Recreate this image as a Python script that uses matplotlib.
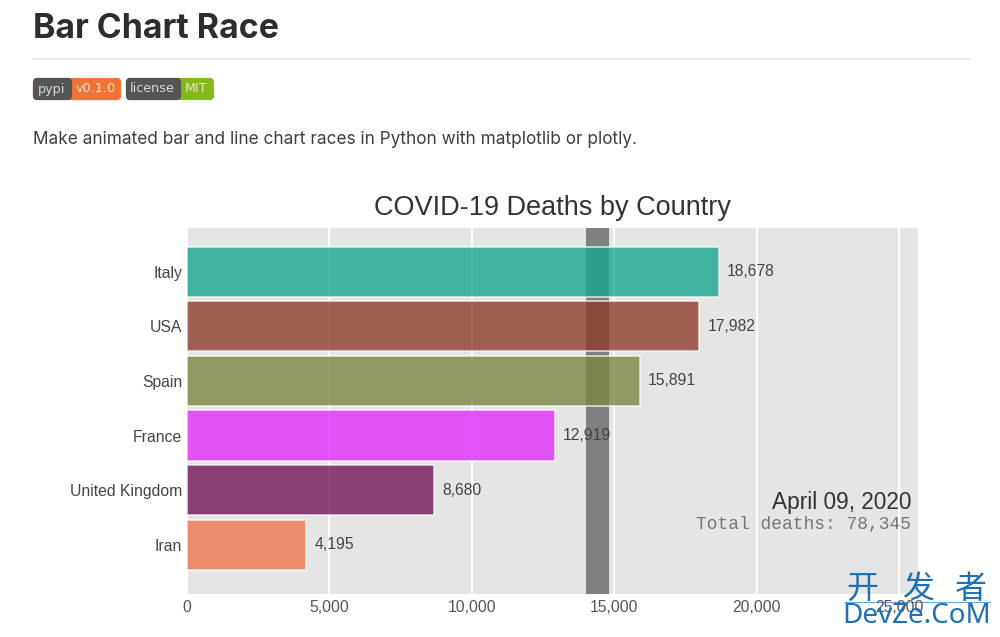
import matplotlib
matplotlib.use('Agg')
import matplotlib.pyplot as plt
from matplotlib.patches import FancyBboxPatch, Rectangle

countries = ['Italy', 'USA', 'Spain', 'France', 'United Kingdom', 'Iran']
deaths = [18678, 17982, 15891, 12919, 8680, 4195]
bar_colors = ['#18A68F', '#8F3D2B', '#778842', '#DF2DF9', '#761658', '#EC7651']
xticks = [0, 5000, 10000, 15000, 20000, 25000]
band = [14000, 14800]

W, H = 1000, 637
fig = plt.figure(figsize=(W / 100, H / 100), dpi=100)

# page part, in pixel coords
page = fig.add_axes([0, 0, 1, 1], zorder=0)
page.set_xlim(0, W)
page.set_ylim(H, 0)
page.axis('off')

page.text(33, 29, 'Bar Chart Race', fontsize=24.4, fontweight='bold', family='Inter',
          color='#2a2e33', ha='left', va='center')
page.plot([33, 970], [59, 59], color='#e4e6e8', lw=1.2)


def badge(x0, split, x1, left, right, right_col):
    page.add_patch(FancyBboxPatch((x0 + 2, 80), x1 - x0 - 4, 18, boxstyle='round,pad=0,rounding_size=2',
                                  fc=right_col, ec=right_col, lw=3))
    page.add_patch(FancyBboxPatch((x0 + 2, 80), split - x0 - 2, 18, boxstyle='round,pad=0,rounding_size=2',
                                  fc='#555555', ec='#555555', lw=3))
    page.add_patch(Rectangle((split - 3, 78.5), 3, 21, fc='#555555', ec='none'))
    page.text((x0 + split) / 2, 89, left, fontsize=9.2, family='DejaVu Sans', color='#d8d8d8',
              ha='center', va='center')
    page.text((split + x1) / 2, 89, right, fontsize=9.2, family='DejaVu Sans', color='#f0e0c8',
              ha='center', va='center')


badge(33, 70, 121, 'pypi', 'v0.1.0', '#EF7436')
badge(126, 179, 214, 'license', 'MIT', '#84B91B')

page.text(33, 140, 'Make animated bar and line chart races in Python with matplotlib or plotly.',
          fontsize=12.4, family='Inter', color='#3a3f44', ha='left', va='center')

# chart
ax = fig.add_axes([187 / W, 1 - 594 / H, (918 - 187) / W, (594 - 228) / H], zorder=1)
ax.set_facecolor('#e5e5e5')
ypos = list(range(len(countries), 0, -1))
ax.axvspan(band[0], band[1], color='#808080', lw=0, zorder=1)
ax.barh(ypos, deaths, height=0.92, color=bar_colors, alpha=0.8, edgecolor='white', linewidth=1.1, zorder=2)
ax.set_xlim(0, 25667)
ax.set_ylim(0.1, 6.8)
ax.set_xticks(xticks)
ax.set_xticklabels([f'{v:,}' for v in xticks], family='Liberation Sans', fontsize=11.3, color='#555555')
ax.set_yticks(ypos)
ax.set_yticklabels(countries, family='Liberation Sans', fontsize=11.3, color='#444444')
ax.tick_params(length=0, axis='x', pad=4)
ax.tick_params(length=0, axis='y', pad=3.5)
ax.grid(axis='x', color='white', lw=1.6, zorder=0)
ax.set_axisbelow(True)
for side in ax.spines.values():
    side.set_visible(False)

for y, v in zip(ypos, deaths):
    ax.text(v + 290, y, f'{v:,}', family='Liberation Sans', fontsize=11.3, color='#444444',
            ha='left', va='center', zorder=3)

page.text(552, 208, 'COVID-19 Deaths by Country', family='Liberation Sans', fontsize=19.5,
          color='#333333', ha='center', va='center')

ax.text(0.9905, 0.25, 'April 09, 2020', transform=ax.transAxes, family='Liberation Sans', fontsize=16.3,
        color='#333333', ha='right', va='center', zorder=4)
ax.text(0.9905, 0.191, 'Total deaths: 78,345', transform=ax.transAxes, family='Liberation Mono', fontsize=12.9,
        color='#777777', ha='right', va='center', zorder=4)

# site watermark on top
for cx, ch in zip([862, 918, 971], '开发者'):
    fig.text(cx / W, 1 - 589 / H, ch, family='Noto Sans CJK SC', fontsize=23, color='#1f6fb5',
             ha='center', va='center', zorder=10)
fig.text(917 / W, 1 - 616 / H, 'DevZe.CoM', family='Noto Sans', fontsize=20, color='#1f6fb5',
         ha='center', va='center', zorder=10)
page.plot([844, 990], [602, 602], color='#6aa6d6', lw=0.8)

fig.savefig('out.png', dpi=100)
